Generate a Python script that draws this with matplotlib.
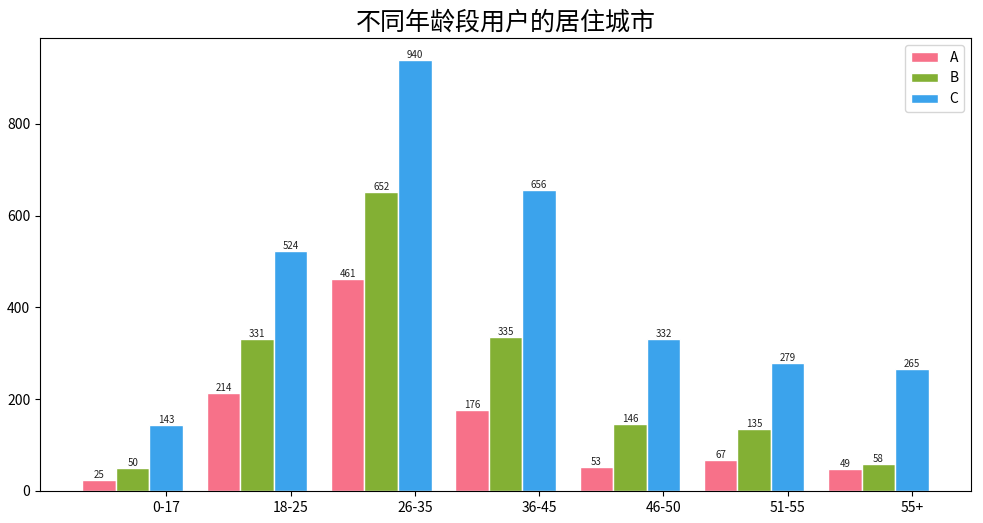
import matplotlib
matplotlib.use("Agg")
import matplotlib.pyplot as plt
import numpy as np

plt.rcParams['font.family'] = ['Noto Sans CJK SC', 'DejaVu Sans']
plt.rcParams['axes.unicode_minus'] = False

categories = ['0-17', '18-25', '26-35', '36-45', '46-50', '51-55', '55+']
series_names = ['A', 'B', 'C']
a_values = [25, 214, 461, 176, 53, 67, 49]
b_values = [50, 331, 652, 335, 146, 135, 58]
c_values = [143, 524, 940, 656, 332, 279, 265]
colors = ['#f77189', '#83b034', '#3ba3ec']
title = '不同年龄段用户的居住城市'

fig = plt.figure(figsize=(9.83, 5.23), dpi=100)
ax = fig.add_axes([0.0407, 0.0612, 0.9472, 0.8661])

x = np.arange(len(categories))
w = 0.27
for k, (vals, name, col) in enumerate(zip([a_values, b_values, c_values], series_names, colors)):
    pos = x + (k - 2) * w
    bars = ax.bar(pos, vals, width=w, color=col, edgecolor='white', linewidth=1, label=name)
    for b, v in zip(bars, vals):
        ax.text(b.get_x() + b.get_width() / 2, v, str(v), ha='center', va='bottom', fontsize=7, color='#222222')

ax.set_xticks(x)
ax.set_xticklabels(categories, fontsize=10)
ax.tick_params(axis='y', labelsize=10)
ax.set_title(title, fontsize=18)
ax.legend(loc='upper right')

fig.savefig('out.png', dpi=100)
